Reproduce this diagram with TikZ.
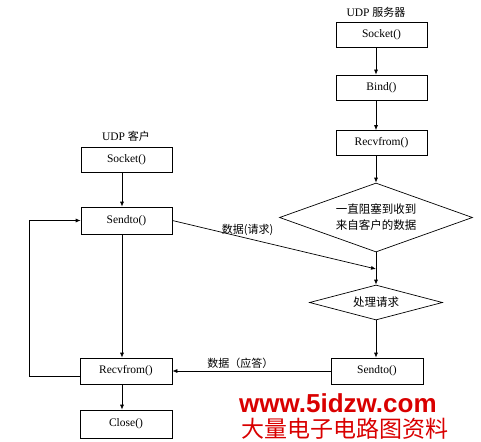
\documentclass[tikz,border=0pt]{standalone}
\usepackage{fontspec}
\setmainfont{Liberation Serif}
\newfontfamily\cjk{Noto Sans CJK SC}
\newfontfamily\wmfont{Liberation Sans}
\usetikzlibrary{shapes.geometric,arrows.meta}
\begin{document}
\begin{tikzpicture}[x=1pt,y=-1pt,
  box/.style={draw,line width=0.7pt,minimum width=91pt,minimum height=25pt,inner sep=0pt,font=\fontsize{11.5}{13}\selectfont},
  dia/.style={draw,line width=0.7pt,diamond,inner sep=0pt,font=\cjk\fontsize{11.5}{16}\selectfont,align=center},
  lbl/.style={font=\fontsize{11.5}{13}\selectfont},
  cl/.style={font=\cjk\fontsize{11}{13}\selectfont},
  arr/.style={-{Latex[length=5pt,width=4pt]},line width=0.7pt},
  ln/.style={line width=0.7pt}]
\useasboundingbox (0,0) rectangle (481,441);
% server column
\node[lbl] (stitle) at (376,12) {UDP {\cjk\fontsize{11}{13}\selectfont 服务器}};
\node[box] (ssock) at (381.5,34.5) {Socket()};
\node[box] (sbind) at (381.5,87.5) {Bind()};
\node[box] (srecv) at (381.5,143) {Recvfrom()};
\node[dia,minimum width=193pt,minimum height=69pt,aspect=2.8] (d1) at (376,217.5) {一直阻塞到收到\\来自客户的数据};
\node[dia,minimum width=133pt,minimum height=35pt,aspect=3.8] (d2) at (376,302.5) {处理请求};
\node[box,minimum width=92pt,minimum height=26pt] (ssend) at (377,371) {Sendto()};
% client column
\node[lbl] (ctitle) at (126,136) {UDP {\cjk\fontsize{11}{13}\selectfont 客户}};
\node[box] (csock) at (126.5,159.5) {Socket()};
\node[box,minimum height=27pt] (csend) at (126.5,220.5) {Sendto()};
\node[box,minimum width=92pt,minimum height=26pt] (crecv) at (126,371) {Recvfrom()};
\node[box,minimum width=92pt,minimum height=28pt] (cclose) at (126,424) {Close()};
\coordinate (req) at (376,269);
\coordinate (lp1) at (29,376);
\coordinate (lp2) at (29,220.5);
% connectors
\draw[arr] (ssock.south -| 376,0) -- (sbind.north -| 376,0);
\draw[arr] (sbind.south -| 376,0) -- (srecv.north -| 376,0);
\draw[arr] (srecv.south -| 376,0) -- (d1.north);
\draw[arr] (d1.south) -- (d2.north);
\draw[arr] (d2.south) -- (ssend.north -| 376,0);
\draw[arr] (csend.east) -- node[pos=0.37,above=-1pt,cl] {数据(请求)} (req);
\draw[arr] (ssend.west) -- node[pos=0.57,above=-1pt,cl] {数据（应答）} (crecv.east);
\draw[arr] (csock.south -| 122,0) -- (csend.north -| 122,0);
\draw[arr] (csend.south -| 122,0) -- (crecv.north -| 122,0);
\draw[arr] (crecv.south -| 122,0) -- (cclose.north -| 122,0);
\draw[arr] (crecv.west |- lp1) -- (lp1) -- (lp2) -- (csend.west);
% watermark
\node[text=red!85!black,font=\wmfont\bfseries\fontsize{26}{26}\selectfont,anchor=west,inner sep=0pt] (wm1) at (239,403) {www.5idzw.com};
\node[text=red!85!black,font=\cjk\fontsize{23}{23}\selectfont,anchor=west,inner sep=0pt] (wm2) at (241,428.5) {大量电子电路图资料};
\end{tikzpicture}
\end{document}
